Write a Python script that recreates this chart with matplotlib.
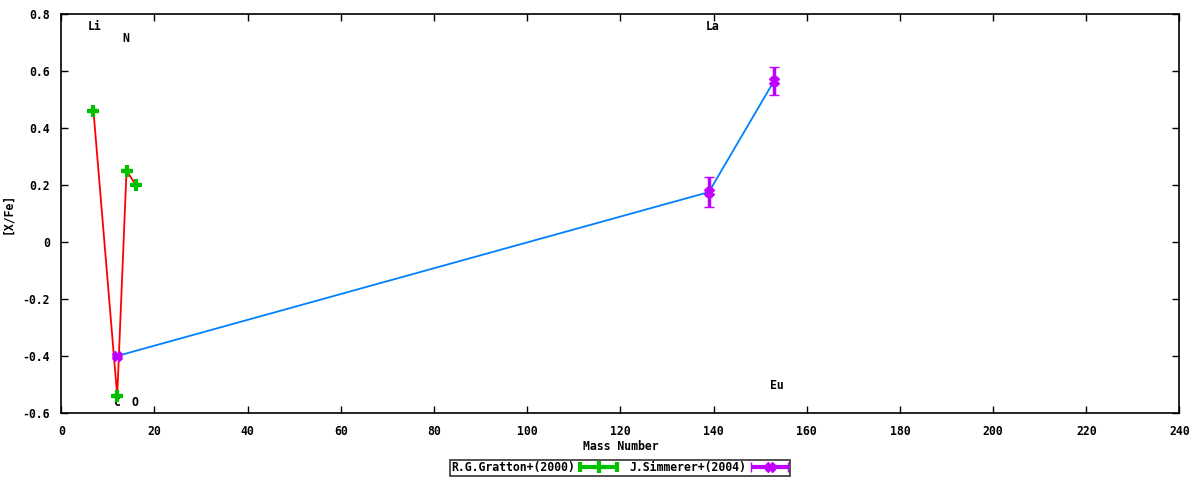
import matplotlib
matplotlib.use("Agg")
import matplotlib.pyplot as plt
from matplotlib.legend_handler import HandlerErrorbar
import numpy as np

# Gratton+ (2000)
gratton_mass = [6.9, 12, 14, 16]
gratton_xfe = [0.46, -0.54, 0.25, 0.20]
gratton_err = [0.0, 0.0, 0.0, 0.0]

# Simmerer+ (2004)
simmerer_mass = [12, 139, 153]
simmerer_xfe = [-0.40, 0.175, 0.565]
simmerer_err = [0.0, 0.053, 0.05]

# element labels
elem_names = ["Li", "N", "C", "O", "La", "Eu"]
elem_x = [7.2, 13.9, 11.9, 15.9, 139.8, 153.6]
elem_y = [0.755, 0.713, -0.563, -0.563, 0.757, -0.503]

xticks = list(range(0, 241, 20))
yticks = [-0.6, -0.4, -0.2, 0, 0.2, 0.4, 0.6, 0.8]
ytick_labels = ["-0.6", "-0.4", "-0.2", "0", "0.2", "0.4", "0.6", "0.8"]

green = "#00c000"
magenta = "#c000ff"
red = "#ff0000"
blue = "#0080ff"
fs = 8.3

plt.rcParams['font.family'] = ['DejaVu Sans Mono']
plt.rcParams['font.weight'] = 'bold'
plt.rcParams['font.size'] = fs

fig = plt.figure(figsize=(12, 4.8), dpi=100)
ax = fig.add_axes([0.0511, 0.1396, 0.9317, 0.8314])

# connecting lines
ax.plot(gratton_mass, gratton_xfe, color=red, lw=1.3, zorder=2)
ax.plot(simmerer_mass, simmerer_xfe, color=blue, lw=1.3, zorder=2)

# points with error bars
ax.errorbar(gratton_mass, gratton_xfe, yerr=gratton_err, fmt='+', color=green,
            ms=9, mew=3, elinewidth=2.5, capsize=3.5, capthick=2.5, zorder=3)
ax.errorbar(simmerer_mass, simmerer_xfe, yerr=simmerer_err, fmt='X', color=magenta,
            ms=7, mew=1, elinewidth=2.5, capsize=3.5, capthick=2.5, zorder=3)

for name, x, y in zip(elem_names, elem_x, elem_y):
    ax.text(x, y, name, ha='center', va='center', fontsize=fs, fontweight='bold')

ax.set_xlim(0, 240)
ax.set_ylim(-0.6, 0.8)
ax.set_xticks(xticks)
ax.set_yticks(yticks)
ax.set_yticklabels(ytick_labels)
ax.tick_params(direction='in', top=True, right=True, length=5, width=1, labelsize=fs)
ax.tick_params(axis='x', pad=9)
ax.tick_params(axis='y', pad=8)
for s in ax.spines.values():
    s.set_linewidth(1.2)
ax.set_xlabel("Mass Number", fontsize=fs, fontweight='bold')
ax.set_ylabel("[X/Fe]", fontsize=fs, fontweight='bold')
ax.xaxis.set_label_coords(0.5, -0.068)
ax.yaxis.set_label_coords(-0.042, 0.5)

# legend samples (horizontal bars like gnuplot keys)
h1 = ax.errorbar([np.nan], [np.nan], xerr=[1], fmt='+', color=green, ms=9, mew=3,
                 elinewidth=3, capsize=3.5, capthick=3, label="R.G.Gratton+(2000)")
h2 = ax.errorbar([np.nan], [np.nan], xerr=[1], fmt='X', color=magenta, ms=7, mew=1,
                 elinewidth=3, capsize=3.5, capthick=3, label="J.Simmerer+(2004)")
leg = fig.legend(handles=[h1, h2], loc='center', bbox_to_anchor=(0.5167, 0.025),
                 ncol=2, markerfirst=False, frameon=True, fancybox=False,
                 edgecolor='black', fontsize=fs, handlelength=3.3,
                 handler_map={type(h1): HandlerErrorbar(xerr_size=1.6)},
                 borderpad=0.1, borderaxespad=0, columnspacing=1.0,
                 handletextpad=0.4)
leg.get_frame().set_linewidth(1.2)

fig.savefig("out.png", dpi=100)
